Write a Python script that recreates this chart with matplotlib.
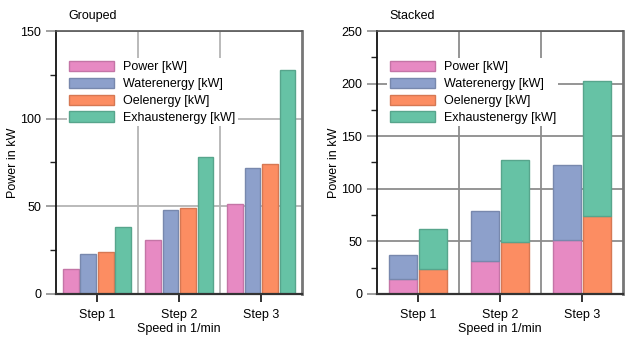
import numpy as np
import matplotlib
matplotlib.use("Agg")
import matplotlib.pyplot as plt
from matplotlib.ticker import MultipleLocator, FixedLocator
from matplotlib.colors import to_rgb

plt.rcParams['font.family'] = ['Liberation Sans', 'DejaVu Sans']
plt.rcParams['font.size'] = 9

steps = ["Step 1", "Step 2", "Step 3"]
power = [14, 31, 51]
waterenergy = [23, 48, 72]
oelenergy = [24, 49, 74]
exhaustenergy = [38, 78, 128]

labels = ["Power [kW]", "Waterenergy [kW]", "Oelenergy [kW]", "Exhaustenergy [kW]"]
colors = ["#e78ac3", "#8da0cb", "#fc8d62", "#66c2a5"]
series = [power, waterenergy, oelenergy, exhaustenergy]


def darker(c, f=0.85):
    return tuple(v * f for v in to_rgb(c))


def style_axes(ax, ymax, gridcolor):
    ax.set_xlim(-0.5, 2.5)
    ax.set_ylim(0, ymax)
    ax.set_xticks(range(len(steps)))
    ax.set_xticklabels(steps)
    ax.xaxis.set_minor_locator(FixedLocator([0.5, 1.5]))
    ax.yaxis.set_major_locator(MultipleLocator(50))
    ax.yaxis.set_minor_locator(MultipleLocator(25))
    ax.grid(True, which='major', axis='y', color=gridcolor, lw=1.3)
    ax.grid(True, which='minor', axis='x', color=gridcolor, lw=1.3)
    ax.set_axisbelow(True)
    ax.tick_params(axis='x', which='major', length=6, width=1.3, color='#222222', pad=5)
    ax.tick_params(axis='x', which='minor', length=0)
    ax.tick_params(axis='y', which='major', length=7, width=1.3, color='#999999')
    ax.tick_params(axis='y', which='minor', length=4, width=1, color='#222222')
    ax.spines['left'].set_color('#111111')
    ax.spines['left'].set_linewidth(1.3)
    ax.spines['bottom'].set_color('#333333')
    ax.spines['bottom'].set_linewidth(1.6)
    ax.spines['top'].set_color('#555555')
    ax.spines['top'].set_linewidth(1.2)
    ax.spines['right'].set_color('#777777')
    ax.spines['right'].set_linewidth(2)
    ax.set_xlabel("Speed in 1/min", labelpad=1)
    ax.set_ylabel("Power in kW", labelpad=1)
    ax.legend(loc='upper left', bbox_to_anchor=(0.018, 0.92), frameon=True,
              edgecolor='none', facecolor='white', framealpha=1,
              handlelength=3.6, handleheight=0.9, labelspacing=0.35,
              borderpad=0.2, handletextpad=0.7, fontsize=9)


fig = plt.figure(figsize=(6.43, 3.37), dpi=100)
ax1 = fig.add_axes([0.087, 0.128, 0.383, 0.780])
ax2 = fig.add_axes([0.586, 0.128, 0.383, 0.780])

x = np.arange(len(steps))

# grouped
for i, (vals, lab, col) in enumerate(zip(series, labels, colors)):
    ax1.bar(x + (i - 1.5) * 0.213, vals, width=0.19, color=col,
            edgecolor=darker(col), linewidth=1, label=lab)
style_axes(ax1, 150, '#b4b4b4')
ax1.text(0.05, 1.045, "Grouped", transform=ax1.transAxes, ha='left', va='baseline')

# stacked
ax2.bar(x - 0.18, power, width=0.34, color=colors[0], edgecolor=darker(colors[0]),
        linewidth=1, label=labels[0])
ax2.bar(x - 0.18, waterenergy, width=0.34, bottom=power, color=colors[1],
        edgecolor=darker(colors[1]), linewidth=1, label=labels[1])
ax2.bar(x + 0.18, oelenergy, width=0.34, color=colors[2], edgecolor=darker(colors[2]),
        linewidth=1, label=labels[2])
ax2.bar(x + 0.18, exhaustenergy, width=0.34, bottom=oelenergy, color=colors[3],
        edgecolor=darker(colors[3]), linewidth=1, label=labels[3])
style_axes(ax2, 250, '#8c8c8c')
ax2.text(0.05, 1.045, "Stacked", transform=ax2.transAxes, ha='left', va='baseline')

fig.savefig("out.png", dpi=100)
